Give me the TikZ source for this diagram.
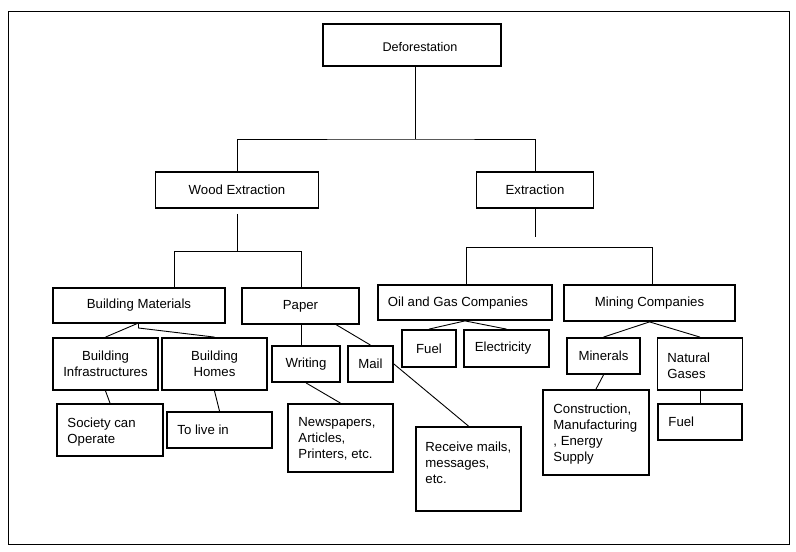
\documentclass[tikz,border=0pt]{standalone}
\usepackage{fontspec}
\setmainfont{Liberation Sans}

\tikzset{every picture/.style={line width=0.9bp}}
\tikzset{
  box/.style={draw, line width=1.8bp, inner sep=0pt, font=\fontsize{13.2bp}{16bp}\selectfont, align=center},
  txt/.style={inner sep=0pt, font=\fontsize{13.2bp}{16bp}\selectfont, align=left},
  link/.style={draw, line width=0.9bp}
}

\begin{document}
\begin{tikzpicture}[x=1bp,y=1bp,yscale=-1,xscale=1]
    \useasboundingbox (0,0) rectangle (796,552);
    %Shape: Frame
    \draw (8,11) rectangle (789,544);

    %Shape: Box [id:def]
    \node [box, minimum width=178bp, minimum height=42bp] (def) at (412,45) {};
    %Shape: Box [id:wood]
    \node [box, minimum width=163bp, minimum height=36bp] (wood) at (237,190) {Wood Extraction};
    %Shape: Box [id:extr]
    \node [box, minimum width=117bp, minimum height=36bp] (extr) at (535,190) {Extraction};

    %Shape: Box [id:bm]
    \node [box, minimum width=172bp, minimum height=35bp] (bm) at (139,305.5) {Building Materials};
    %Shape: Box [id:paper]
    \node [box, minimum width=117bp, minimum height=36bp] (paper) at (300.5,306) {Paper};
    %Shape: Box [id:oil]
    \node [box, minimum width=174bp, minimum height=35bp] (oil) at (465,302.5) {};
    %Shape: Box [id:mining]
    \node [box, minimum width=171bp, minimum height=36bp] (mining) at (649.5,303) {Mining Companies};

    %Shape: Box [id:bi]
    \node [box, minimum width=105bp, minimum height=52bp] (bi) at (105.5,364) {Building\\Infrastructures};
    %Shape: Box [id:bh]
    \node [box, minimum width=105bp, minimum height=52bp] (bh) at (214.5,364) {Building\\Homes};
    %Shape: Box [id:writing]
    \node [box, minimum width=68bp, minimum height=36bp] (writing) at (306,364) {Writing};
    %Shape: Box [id:mail]
    \node [box, minimum width=45bp, minimum height=36bp] (mail) at (370.5,364) {Mail};
    %Shape: Box [id:fuelA]
    \node [box, minimum width=54bp, minimum height=37bp] (fuelA) at (429,348.5) {Fuel};
    %Shape: Box [id:elec]
    \node [box, minimum width=85bp, minimum height=37bp] (elec) at (506.5,348.5) {};
    %Shape: Box [id:minerals]
    \node [box, minimum width=73bp, minimum height=36bp] (minerals) at (603.5,356) {Minerals};
    %Shape: Box [id:natgas]
    \node [box, minimum width=85bp, minimum height=52bp] (natgas) at (700,364) {};

    %Shape: Box [id:society]
    \node [box, minimum width=106bp, minimum height=52bp] (society) at (110,430) {};
    %Shape: Box [id:live]
    \node [box, minimum width=105bp, minimum height=36bp] (live) at (219.5,430) {};
    %Shape: Box [id:news]
    \node [box, minimum width=105bp, minimum height=68bp] (news) at (340.5,438) {};
    %Shape: Box [id:receive]
    \node [box, minimum width=105bp, minimum height=84bp] (receive) at (468.5,469) {};
    %Shape: Box [id:constr]
    \node [box, minimum width=106bp, minimum height=85bp] (constr) at (596,432.5) {};
    %Shape: Box [id:fuelB]
    \node [box, minimum width=84bp, minimum height=36bp] (fuelB) at (700,422) {};

    %Straight Lines: Deforestation to second row
    \coordinate (defj) at (415,139);
    \draw [link] (def.south -| defj) -- (defj);
    \draw [link] (wood.north) |- (defj) -| (extr.north);
    %Straight Lines: Wood Extraction to third row
    \coordinate (woodg) at (237,214);
    \coordinate (wl) at (174,251);
    \coordinate (wr) at (301,251);
    \draw [link] (woodg) -- (woodg |- wl);
    \draw [link] (wl |- bm.north) -- (wl) -- (wr) -- (wr |- paper.north);
    %Straight Lines: Extraction to third row
    \coordinate (extrg) at (535,237);
    \coordinate (el) at (466,247);
    \coordinate (er) at (652,247);
    \draw [link] (extr.south) -- (extrg);
    \draw [link] (el |- oil.north) -- (el) -- (er) -- (er |- mining.north);

    %Straight Lines: Building Materials
    \coordinate (bmj) at (138.5,323);
    \draw [link] (bmj) -- (bi.north);
    \draw [link] (bmj) -- ++(0,5) -- (bh.north);
    %Straight Lines: Paper
    \coordinate (pw) at (301,324);
    \coordinate (pm) at (335,324);
    \draw [link] (pw) -- (pw |- writing.north);
    \draw [link] (pm) -- (mail.north);
    \draw [link] (mail.east) -- (receive.north);
    \draw [link] (writing.south) -- (news.north);
    \draw [link] (bi.south) -- (society.north);
    \draw [link] (bh.south) -- (live.north);
    %Straight Lines: Oil and Gas, Mining
    \draw [link] (fuelA.north) -- (oil.south) -- (elec.north);
    \draw [link] (minerals.north) -- (mining.south) -- (natgas.north);
    \draw [link] (minerals.south) -- (constr.north);
    \draw [link] (natgas.south) -- (fuelB.north);

    % Text Node
    \node [txt, font=\fontsize{12.6bp}{15bp}\selectfont] (deft) at (420,46.5) {Deforestation};
    % Text Node
    \node [txt] (oilt) at (458,303) {Oil and Gas Companies};
    % Text Node
    \node [txt] (elect) at (503,348.5) {Electricity};
    % Text Node
    \node [txt, anchor=north west] (natgast) at (667,352) {Natural\\Gases};
    % Text Node
    \node [txt, anchor=north west] (societyt) at (67,417) {Society can\\Operate};
    % Text Node
    \node [txt, anchor=west] (livet) at (177,430) {To live in};
    % Text Node
    \node [txt, anchor=north west] (newst) at (298,417) {Newspapers,\\Articles,\\Printers, etc.};
    % Text Node
    \node [txt, anchor=north west] (receivet) at (425,441) {Receive mails,\\messages,\\etc.};
    % Text Node
    \node [txt, anchor=north west] (constrt) at (553,403) {Construction,\\Manufacturing\\, Energy\\Supply};
    % Text Node
    \node [txt, anchor=west] (fuelBt) at (668,422) {Fuel};

\end{tikzpicture}
\end{document}
